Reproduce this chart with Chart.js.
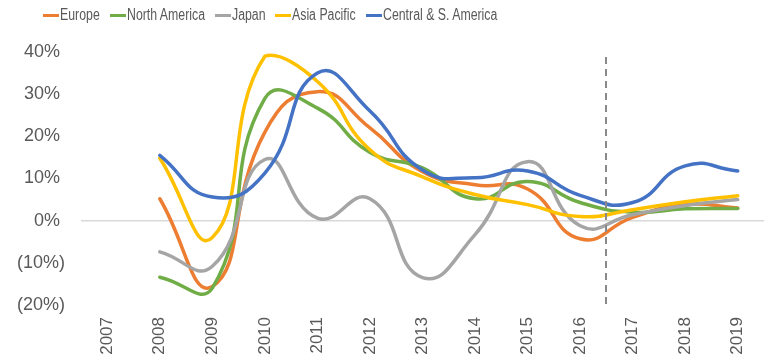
<!DOCTYPE html>
<html>
<head>
<meta charset="utf-8">
<script src="https://cdn.jsdelivr.net/npm/chart.js@4"></script>
<style>
  html, body { margin: 0; padding: 0; background: #fff; }
  #wrap { position: relative; width: 764px; height: 361px; }
  #legend { position: absolute; left: 0; top: 0; width: 764px; height: 30px;
    font-family: "Liberation Sans", Arial, sans-serif; font-size: 16px; color: #595959; }
  .swatch { position: absolute; top: 14px; width: 16px; height: 3px; }
  .txt { position: absolute; top: 5px; line-height: 20px; white-space: nowrap; transform: scaleX(0.77); transform-origin: 0 50%; }
</style>
</head>
<body>
<div id="wrap">
  <div id="legend"></div>
  <canvas id="c" width="764" height="361"></canvas>
</div>
<script>
const categories = ['2007','2008','2009','2010','2011','2012','2013','2014','2015','2016','2017','2018','2019'];
const seriesNames = ['Europe','North America','Japan','Asia Pacific','Central & S. America'];
const seriesColors = ['#ED7D31','#70AD47','#A5A5A5','#FFC000','#4472C4'];
const europe       = [null, 5.2, -15.6, 21, 30.6, 22, 11.6, 8.5, 7.5, -4.3, 0.8, 3.8, 3.0];
const northAmerica = [null, -13.4, -16, 29, 26.7, 16.2, 12.5, 5.2, 9.3, 4.3, 2.0, 2.8, 2.9];
const japan        = [null, -7.4, -10.8, 14.5, 0.6, 5.2, -13.5, -3.3, 14.0, -1.2, 1.4, 3.6, 5.0];
const asiaPacific  = [null, 14.8, -4.0, 39, 33, 16.8, 10.4, 6.2, 3.8, 1.0, 2.6, 4.5, 5.9];
const centralSA    = [null, 15.5, 5.6, 11.3, 35, 26, 12, 10.2, 11.8, 6.0, 4.3, 13.0, 11.8];
const yTicks = [-20, -10, 0, 10, 20, 30, 40];
const forecastAfter = '2016';

const seriesData = [europe, northAmerica, japan, asiaPacific, centralSA];

// HTML legend (layout positions only)
const legendX = [43, 110, 215, 275, 366];
const legendEl = document.getElementById('legend');
seriesNames.forEach((n, i) => {
  const sw = document.createElement('div'); sw.className = 'swatch';
  sw.style.background = seriesColors[i]; sw.style.left = legendX[i] + 'px';
  const tx = document.createElement('span'); tx.className = 'txt';
  tx.style.left = (legendX[i] + 17) + 'px'; tx.textContent = n;
  legendEl.appendChild(sw); legendEl.appendChild(tx);
});

const dashPlugin = {
  id: 'dashLine',
  afterDatasetsDraw(chart) {
    const xs = chart.scales.x, area = chart.chartArea, ctx = chart.ctx;
    const i = categories.indexOf(forecastAfter);
    const x = (xs.getPixelForValue(i) + xs.getPixelForValue(i + 1)) / 2;
    ctx.save();
    ctx.strokeStyle = '#8a8a8a'; ctx.lineWidth = 2; ctx.setLineDash([7, 5]);
    ctx.beginPath(); ctx.moveTo(Math.round(x), area.top + 5); ctx.lineTo(Math.round(x), area.bottom + 1); ctx.stroke();
    ctx.restore();
  }
};

new Chart(document.getElementById('c'), {
  type: 'line',
  data: {
    labels: categories,
    datasets: seriesNames.map((n, i) => ({
      label: n, data: seriesData[i], borderColor: seriesColors[i], backgroundColor: seriesColors[i],
      borderWidth: 3.5, pointRadius: 0, tension: 0.5, fill: false, order: seriesNames.length - i,
      borderCapStyle: 'round', borderJoinStyle: 'round'
    }))
  },
  options: {
    responsive: false, animation: false,
    layout: { padding: { top: 52, left: 17, right: 0, bottom: 0 } },
    plugins: { legend: { display: false }, tooltip: { enabled: false } },
    scales: {
      x: {
        offset: true,
        afterFit(axis) { axis.height = 56; axis.paddingLeft = 0; axis.paddingRight = 0; },
        grid: { display: false, drawTicks: false },
        border: { display: false },
        ticks: { minRotation: 90, maxRotation: 90, padding: 12, color: '#595959',
          font: { family: '"Liberation Sans", Arial, sans-serif', size: 17 } }
      },
      y: {
        min: -20, max: 40,
        afterFit(axis) { axis.width = 64; axis.paddingTop = 0; axis.paddingBottom = 0; },
        afterBuildTicks(axis) { axis.ticks = yTicks.map(v => ({ value: v })); },
        grid: { drawTicks: false, color: ctx => (ctx.tick && ctx.tick.value === 0) ? '#d9d9d9' : 'rgba(0,0,0,0)', lineWidth: 1.5 },
        border: { display: false },
        ticks: { padding: 16, color: '#595959',
          font: { family: '"Liberation Sans", Arial, sans-serif', size: 18 },
          callback: v => v < 0 ? '(' + Math.abs(v) + '%)' : v + '% ' }
      }
    }
  },
  plugins: [dashPlugin]
});
</script>
</body>
</html>
